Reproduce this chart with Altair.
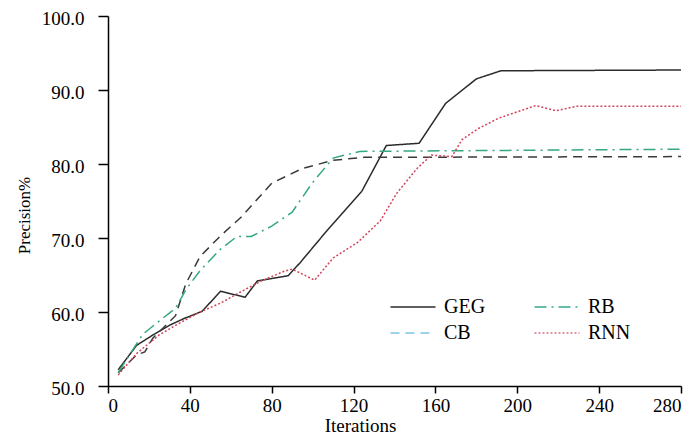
import altair as alt
import pandas as pd

series_order = ["GEG", "CB", "RB", "RNN"]

geg_x = [5, 14, 22, 30, 37, 46, 55, 67, 73, 88, 94, 107, 124, 136, 152, 165, 180, 192, 280]
geg_y = [52.2, 55.5, 56.9, 58.2, 59.1, 60.1, 62.8, 62.0, 64.2, 64.9, 66.7, 71.0, 76.3, 82.5, 82.8, 88.2, 91.5, 92.6, 92.7]

cb_x = [5, 14, 18, 22, 33, 38, 45, 55, 65, 80, 95, 110, 125, 280]
cb_y = [51.8, 54.2, 54.6, 56.5, 59.5, 63.8, 67.5, 70.3, 72.8, 77.4, 79.4, 80.5, 80.9, 81.0]

rb_x = [5, 10, 17, 26, 33, 38, 45, 55, 63, 70, 80, 90, 100, 110, 123, 280]
rb_y = [51.8, 54.0, 57.0, 59.0, 60.5, 63.0, 65.6, 68.5, 70.2, 70.2, 71.6, 73.5, 77.5, 80.8, 81.7, 82.0]

rnn_x = [5, 14, 25, 33, 45, 55, 66, 75, 86, 90, 101, 110, 122, 133, 141, 151, 158, 168, 173, 181, 191, 209, 219, 229, 280]
rnn_y = [51.5, 54.4, 56.9, 58.2, 60.0, 61.2, 62.9, 64.2, 65.5, 65.8, 64.3, 67.3, 69.4, 72.3, 76.0, 79.4, 81.2, 81.0, 83.3, 84.8, 86.2, 87.9, 87.2, 87.8, 87.8]

x_ticks = [0, 40, 80, 120, 160, 200, 240, 280]
y_ticks = [50, 60, 70, 80, 90, 100]

plot_colors = ["#2b2b2b", "#3a3a3a", "#35a87e", "#d2445a"]
legend_colors = ["#2b2b2b", "#7cc3e6", "#35a98e", "#d27585"]
dashes = [[1, 0], [9, 6], [12, 5, 2, 5], [2, 2]]

rows = []
for name, xs, ys in [("GEG", geg_x, geg_y), ("CB", cb_x, cb_y), ("RB", rb_x, rb_y), ("RNN", rnn_x, rnn_y)]:
    for a, b in zip(xs, ys):
        rows.append({"series": name, "iter": a, "prec": b})
df = pd.DataFrame(rows)

FONT = "Liberation Serif"

x_enc = alt.X(
    "iter:Q",
    scale=alt.Scale(domain=[0, 280], nice=False),
    axis=alt.Axis(
        values=x_ticks, title="Iterations", tickSize=7, labelPadding=3,
        titleX=252, titleY=39, titleBaseline="middle", titleAlign="center", titleFontSize=19,
    ),
)
y_enc = alt.Y(
    "prec:Q",
    scale=alt.Scale(domain=[50, 100], nice=False, zero=False),
    axis=alt.Axis(
        values=y_ticks, format=".1f", title="Precision%", tickSize=10, labelPadding=14, labelOffset=2,
        titleX=-84, titleY=199, titleAngle=-90, titleAlign="center", titleBaseline="middle", titleFontSize=17,
    ),
)

main = alt.Chart(df).mark_line(strokeWidth=1.5).encode(
    x=x_enc,
    y=y_enc,
    color=alt.Color("series:N", scale=alt.Scale(domain=series_order, range=plot_colors), legend=None),
    strokeDash=alt.StrokeDash("series:N", scale=alt.Scale(domain=series_order, range=dashes), legend=None),
)

# wide horizontal stroke symbol on a small nominal size so rows stay compact
leg = alt.Legend(
    orient="none", legendX=294, legendY=280, columns=2, title=None,
    symbolType="M-2.25,0H2.25", symbolSize=400, symbolStrokeWidth=1.5, symbolOpacity=1,
    symbolFillColor="transparent",
    labelFont=FONT, labelFontSize=20, labelColor="black", labelOffset=20,
    columnPadding=45, rowPadding=5,
)

legend_layer = alt.Chart(df).mark_line(opacity=0).encode(
    x=alt.X("iter:Q"),
    y=alt.Y("prec:Q"),
    color=alt.Color("series:N", scale=alt.Scale(domain=series_order, range=legend_colors), legend=leg),
    strokeDash=alt.StrokeDash("series:N", scale=alt.Scale(domain=series_order, range=dashes), legend=leg),
)

chart = (
    alt.layer(main, legend_layer)
    .resolve_scale(color="independent", strokeDash="independent")
    .resolve_legend(color="independent", strokeDash="independent")
    .properties(
        width=573, height=370,
        padding={"left": 100, "top": 8, "right": 10, "bottom": 52},
        autosize=alt.AutoSizeParams(type="none"),
    )
    .configure_view(stroke=None)
    .configure_axis(
        domainColor="black", domainWidth=1.5, tickColor="black", tickWidth=1.5,
        labelFont=FONT, labelFontSize=19, labelColor="black",
        titleFont=FONT, titleFontWeight="normal", titleColor="black",
        grid=False,
    )
)

chart.save("out.html", embed_options={"renderer": "svg", "actions": False})
